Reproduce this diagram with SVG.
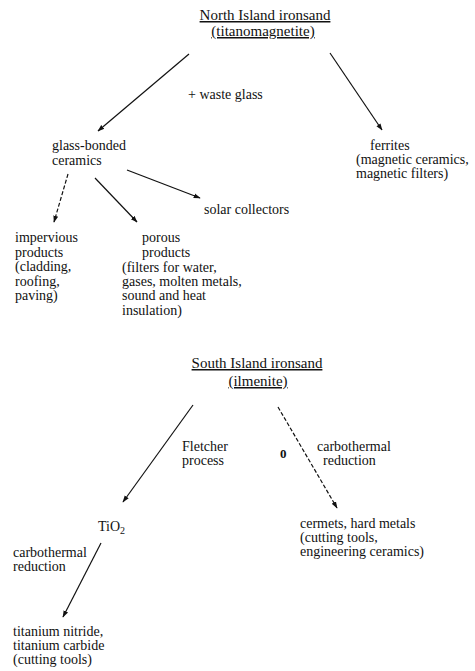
<svg xmlns="http://www.w3.org/2000/svg" width="475" height="671" viewBox="0 0 475 671">
<defs>
<style>
text{font-family:"Liberation Serif","Times New Roman",serif;font-size:14px;fill:#111}
.title{font-size:15px;text-decoration:underline;text-anchor:middle}
.c{stroke:#111;stroke-width:1.2;fill:none}
.d{stroke-dasharray:4 2}
</style>
<marker id="ah" viewBox="0 0 10 10" refX="9" refY="5" markerWidth="7" markerHeight="7" orient="auto" markerUnits="userSpaceOnUse">
<path d="M0,1.5 L10,5 L0,8.5 z" fill="#111"/>
</marker>
</defs>
<rect width="475" height="671" fill="#fff"/>
<g id="connectors">
<line class="c" x1="189" y1="54" x2="98" y2="131" marker-end="url(#ah)"/>
<line class="c" x1="330" y1="53" x2="382" y2="130" marker-end="url(#ah)"/>
<line class="c d" x1="68" y1="174" x2="54" y2="222" marker-end="url(#ah)"/>
<line class="c" x1="95" y1="178" x2="137" y2="222" marker-end="url(#ah)"/>
<line class="c" x1="127" y1="170" x2="200" y2="198" marker-end="url(#ah)"/>
<line class="c" x1="193" y1="405" x2="123" y2="502" marker-end="url(#ah)"/>
<line class="c d" x1="278" y1="407" x2="337" y2="508" marker-end="url(#ah)"/>
<line class="c" x1="101" y1="543" x2="63" y2="617" marker-end="url(#ah)"/>
</g>
<g id="north">
<text class="title" x="265" y="20">North Island ironsand</text>
<text class="title" x="263" y="36">(titanomagnetite)</text>
</g>
<g id="waste-glass"><text x="188" y="99">+ waste glass</text></g>
<g id="ferrites">
<text x="370" y="150">ferrites</text>
<text x="356" y="164">(magnetic ceramics,</text>
<text x="356" y="178">magnetic filters)</text>
</g>
<g id="glass-bonded">
<text x="52" y="150">glass-bonded</text>
<text x="52" y="165">ceramics</text>
</g>
<g id="solar"><text x="204" y="214">solar collectors</text></g>
<g id="impervious">
<text x="15" y="242">impervious</text>
<text x="15" y="257">products</text>
<text x="15" y="271">(cladding,</text>
<text x="15" y="286">roofing,</text>
<text x="15" y="300">paving)</text>
</g>
<g id="porous">
<text x="142" y="242">porous</text>
<text x="142" y="257">products</text>
<text x="122" y="272">(filters for water,</text>
<text x="122" y="286">gases, molten metals,</text>
<text x="122" y="300">sound and heat</text>
<text x="122" y="315">insulation)</text>
</g>
<g id="south">
<text class="title" x="257" y="368">South Island ironsand</text>
<text class="title" x="258" y="386">(ilmenite)</text>
</g>
<g id="fletcher">
<text x="182" y="451">Fletcher</text>
<text x="182" y="465">process</text>
</g>
<g id="mark"><text x="280" y="458" style="font-weight:bold;font-size:13px">0</text></g>
<g id="carbo1">
<text x="317" y="451">carbothermal</text>
<text x="323" y="465">reduction</text>
</g>
<g id="cermets">
<text x="300" y="528">cermets, hard metals</text>
<text x="300" y="542">(cutting tools,</text>
<text x="300" y="556">engineering ceramics)</text>
</g>
<g id="tio2"><text x="98" y="531">TiO<tspan dy="3" font-size="10">2</tspan></text></g>
<g id="carbo2">
<text x="13" y="557">carbothermal</text>
<text x="13" y="571">reduction</text>
</g>
<g id="titanium">
<text x="13" y="636">titanium nitride,</text>
<text x="13" y="650">titanium carbide</text>
<text x="13" y="664">(cutting tools)</text>
</g>
</svg>
